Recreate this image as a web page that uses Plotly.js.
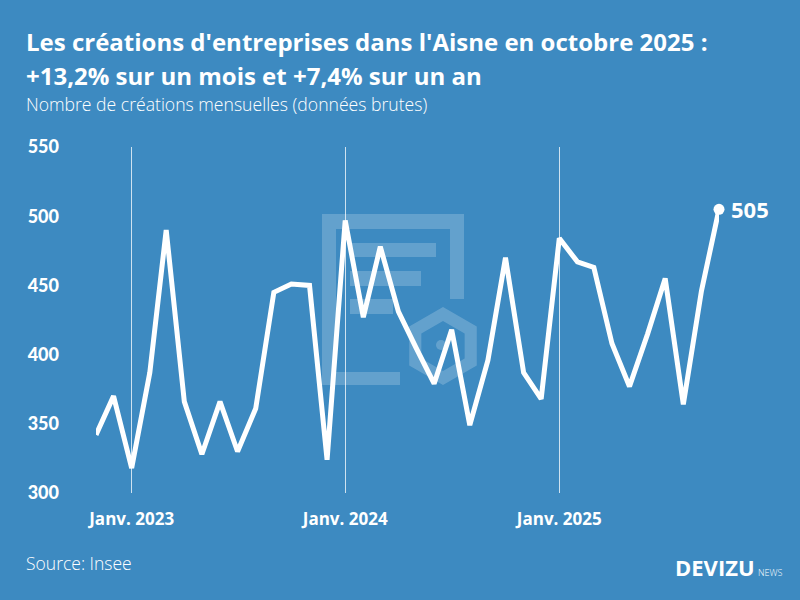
<!DOCTYPE html>
<html>
<head>
<meta charset="utf-8">
<script src="https://cdn.plot.ly/plotly-3.0.1.min.js"></script>
<style>
  html, body { margin: 0; padding: 0; background: #3d8ac1; }
  #chart { width: 800px; height: 600px; }
</style>
</head>
<body>
<div id="chart"></div>
<script>
// ---- Data ----
const months = [
  "2022-11-01","2022-12-01",
  "2023-01-01","2023-02-01","2023-03-01","2023-04-01","2023-05-01","2023-06-01",
  "2023-07-01","2023-08-01","2023-09-01","2023-10-01","2023-11-01","2023-12-01",
  "2024-01-01","2024-02-01","2024-03-01","2024-04-01","2024-05-01","2024-06-01",
  "2024-07-01","2024-08-01","2024-09-01","2024-10-01","2024-11-01","2024-12-01",
  "2025-01-01","2025-02-01","2025-03-01","2025-04-01","2025-05-01","2025-06-01",
  "2025-07-01","2025-08-01","2025-09-01","2025-10-01"
];
const creations = [
  342, 370,
  318, 387, 490, 366, 328, 366,
  330, 361, 445, 451, 450, 324,
  497, 427, 478, 431, 405, 379,
  418, 349, 396, 470, 387, 368,
  484, 467, 463, 408, 377, 415,
  455, 364, 446, 505
];
const xTickVals = ["2023-01-01", "2024-01-01", "2025-01-01"];
const xTickText = ["Janv. 2023", "Janv. 2024", "Janv. 2025"];
const yTickVals = [300, 350, 400, 450, 500, 550];
const yTickText = ["300", "350", "400", "450", "500", "550"];

const titleLine1 = "Les créations d'entreprises dans l'Aisne en octobre 2025 :";
const titleLine2 = "+13,2% sur un mois et +7,4% sur un an";
const subtitle = "Nombre de créations mensuelles (données brutes)";
const source = "Source: Insee";

// ---- Layout helpers (pixel -> paper) ----
const L = 96, R = 719, T = 147, B = 493;
const W = R - L, H = B - T;
const px = x => (x - L) / W;
const py = y => (B - y) / H;

const BG = "#3d8ac1";
const WM = "rgba(255,255,255,0.2)";

function rectShape(x0, y0, x1, y1) {
  return { type: "rect", xref: "paper", yref: "paper", layer: "below",
    x0: px(x0), x1: px(x1), y0: py(y1), y1: py(y0),
    fillcolor: WM, line: { width: 0 } };
}
function hexPath(cx, cy, r) {
  let d = "";
  for (let i = 0; i < 6; i++) {
    const a = Math.PI / 180 * (90 + 60 * i);
    const x = cx + r * Math.cos(a), y = cy - r * Math.sin(a);
    d += (i === 0 ? "M" : "L") + px(x) + "," + py(y);
  }
  return d + "Z";
}

const shapes = [
  rectShape(322, 214, 464, 229),   // top bar
  rectShape(322, 229, 336, 385),   // left bar
  rectShape(450, 229, 464, 299),   // right bar
  rectShape(336, 372, 400, 385),   // bottom bar
  rectShape(350, 243, 436, 257),
  rectShape(350, 271, 421, 286),
  rectShape(350, 299, 393, 314),
  { type: "path", xref: "paper", yref: "paper", layer: "below",
    path: hexPath(443, 346, 39) + hexPath(443, 346, 25),
    fillcolor: WM, line: { width: 0 }, fillrule: "evenodd" },
  { type: "circle", xref: "paper", yref: "paper", layer: "below",
    x0: px(436), x1: px(446), y0: py(350), y1: py(340),
    fillcolor: WM, line: { width: 0 } }
];

const lastIdx = creations.length - 1;

const traces = [
  {
    x: months, y: creations, type: "scatter", mode: "lines",
    line: { color: "#ffffff", width: 5, shape: "linear" },
    cliponaxis: false, hoverinfo: "x+y"
  },
  {
    x: [months[lastIdx]], y: [creations[lastIdx]], type: "scatter", mode: "markers",
    marker: { color: "#ffffff", size: 11 }, cliponaxis: false, hoverinfo: "skip"
  }
];

const OS = "'Open Sans', Lato, sans-serif";
const LA = "Lato, 'Open Sans', sans-serif";

const annotations = [
  { xref: "paper", yref: "paper", x: px(24), y: py(41), xanchor: "left", yanchor: "middle",
    text: "<b>" + titleLine1 + "</b>", showarrow: false,
    font: { family: OS, size: 24, color: "#ffffff", weight: 700 } },
  { xref: "paper", yref: "paper", x: px(24), y: py(75), xanchor: "left", yanchor: "middle",
    text: "<b>" + titleLine2 + "</b>", showarrow: false,
    font: { family: OS, size: 24, color: "#ffffff", weight: 700 } },
  { xref: "paper", yref: "paper", x: px(24), y: py(104), xanchor: "left", yanchor: "middle",
    text: subtitle, showarrow: false,
    font: { family: OS, size: 17.6, color: "#ffffff", weight: 300 } },
  { xref: "paper", yref: "paper", x: px(24), y: py(563), xanchor: "left", yanchor: "middle",
    text: source, showarrow: false,
    font: { family: OS, size: 17.5, color: "#ffffff", weight: 300 } },
  { xref: "paper", yref: "paper", x: px(757), y: py(567), xanchor: "right", yanchor: "middle",
    text: "<b>DEVIZU</b>", showarrow: false,
    font: { family: OS, size: 22, color: "#ffffff", weight: 800 } },
  { xref: "paper", yref: "paper", x: px(756), y: py(572), xanchor: "left", yanchor: "middle",
    text: "NEWS", showarrow: false,
    font: { family: OS, size: 9, color: "#ffffff", weight: 300 } },
  { x: months[lastIdx], y: creations[lastIdx], xref: "x", yref: "y",
    xanchor: "left", yanchor: "middle", xshift: 10,
    text: "<b>" + creations[lastIdx] + "</b>", showarrow: false,
    font: { family: OS, size: 22, color: "#ffffff", weight: 700 } }
];

const layout = {
  width: 800, height: 600,
  paper_bgcolor: BG, plot_bgcolor: BG,
  margin: { l: L, r: 800 - R, t: T, b: 600 - B, pad: 0 },
  showlegend: false,
  font: { family: OS, color: "#ffffff" },
  xaxis: {
    type: "date",
    range: [months[0], months[lastIdx]],
    tickmode: "array", tickvals: xTickVals, ticktext: xTickText,
    showgrid: true, gridcolor: "rgba(255,255,255,0.75)", gridwidth: 1,
    zeroline: false, showline: false, ticks: "",
    tickfont: { family: OS, size: 17, color: "#ffffff", weight: 700 },
    ticklabelstandoff: 14,
    fixedrange: true
  },
  yaxis: {
    range: [300, 550],
    tickmode: "array", tickvals: yTickVals, ticktext: yTickText,
    showgrid: false, zeroline: false, showline: false, ticks: "",
    tickfont: { family: LA, size: 18, color: "#ffffff", weight: 900 },
    ticklabelstandoff: 36,
    fixedrange: true
  },
  shapes: shapes,
  annotations: annotations
};

Plotly.newPlot("chart", traces, layout, { displayModeBar: false, staticPlot: true });
</script>
</body>
</html>
